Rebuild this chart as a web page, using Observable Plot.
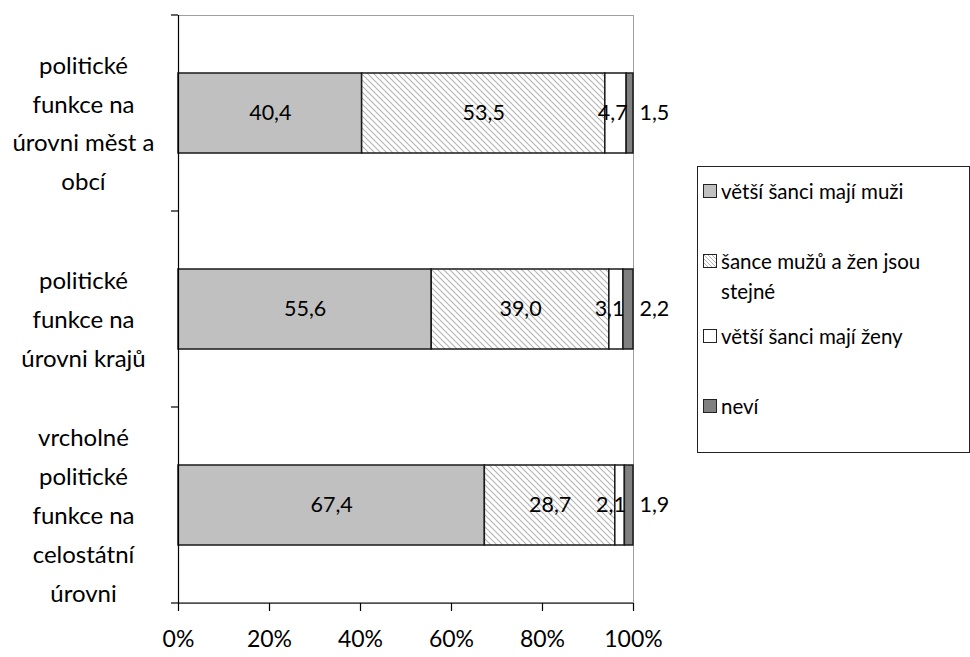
<!DOCTYPE html>
<html>
<head>
<meta charset="utf-8">
<script src="https://cdn.jsdelivr.net/npm/d3@7"></script>
<script src="https://cdn.jsdelivr.net/npm/@observablehq/plot@0.6"></script>
<style>
  body { margin: 0; background: #fff; }
  #wrap { position: relative; width: 970px; height: 657px; font-family: Lato, "Open Sans", sans-serif; }
  #legend { position: absolute; left: 697px; top: 166px; width: 273px; height: 287px; border: 1px solid #222; box-sizing: border-box; background: #fff; font-size: 20.5px; color: #000; }
  .item { position: absolute; left: 5px; display: flex; align-items: flex-start; line-height: 30px; width: 266px; }
  .item svg { flex: none; margin-top: 8px; margin-right: 4px; }
</style>
</head>
<body>
<div id="wrap"></div>
<script>
const categories = [
  "politické funkce na úrovni měst a obcí",
  "politické funkce na úrovni krajů",
  "vrcholné politické funkce na celostátní úrovni"
];
const categoryLabels = [
  "politické\nfunkce na\núrovni měst a\nobcí",
  "politické\nfunkce na\núrovni krajů",
  "vrcholné\npolitické\nfunkce na\ncelostátní\núrovni"
];
const series = ["větší šanci mají muži", "šance mužů a žen jsou stejné", "větší šanci mají ženy", "neví"];
const legendLabels = ["větší šanci mají muži", "šance mužů a žen jsou<br>stejné", "větší šanci mají ženy", "neví"];
const muzi   = [40.4, 55.6, 67.4];
const stejne = [53.5, 39.0, 28.7];
const zeny   = [4.7, 3.1, 2.1];
const nevi   = [1.5, 2.2, 1.9];
const xTicks = [0, 20, 40, 60, 80, 100];

const colors = ["#c0c0c0", "url(#hatch)", "#ffffff", "#808080"];
const legendColors = ["#c0c0c0", "url(#hatchL)", "#ffffff", "#808080"];

const valueArrays = [muzi, stejne, zeny, nevi];
const rows = categories.flatMap((c, i) => valueArrays.map((arr, j) => ({category: c, series: series[j], value: arr[i]})));

const fmt = v => d3.format(".1f")(v).replace(".", ",");
const pct = t => Math.round(t * 100) + "%";
const stackOpts = extra => ({x: "value", y: "category", z: "series", order: series, offset: "normalize", ...extra});

function boundaryTicks(index, scales, values, dims) {
  const y = scales.y;
  const bw = y.bandwidth ? y.bandwidth() : 0;
  const centers = categories.map(c => y(c) + bw / 2);
  const top = dims.marginTop, bottom = dims.height - dims.marginBottom;
  const left = dims.marginLeft, right = dims.width - dims.marginRight;
  const ys = [top];
  for (let i = 1; i < centers.length; i++) ys.push((centers[i - 1] + centers[i]) / 2);
  ys.push(bottom);
  const g = d3.create("svg:g").attr("stroke", "#000").attr("stroke-width", 1.2);
  for (const yy of ys) g.append("line").attr("x1", left - 7).attr("x2", left).attr("y1", yy).attr("y2", yy);
  g.append("line").attr("x1", left).attr("x2", right).attr("y1", bottom).attr("y2", bottom);
  return g.node();
}

const chart = Plot.plot({
  width: 970,
  height: 657,
  marginLeft: 178,
  marginRight: 337,
  marginTop: 15,
  marginBottom: 54,
  style: {fontFamily: "Lato, 'Open Sans', sans-serif", fontSize: "21.5px", color: "#000", background: "#fff", overflow: "visible"},
  x: {domain: [0, 1], ticks: xTicks.map(t => t / 100), tickFormat: pct, label: null, axis: null},
  y: {domain: categories, paddingInner: 0.592, paddingOuter: 0.296, label: null, axis: null},
  color: {domain: series, range: colors},
  marks: [
    Plot.frame({stroke: "#a0a0a0"}),
    Plot.barX(rows, Plot.stackX(stackOpts({fill: "series", stroke: "#1a1a1a", strokeWidth: 1.5}))),
    Plot.ruleX([0], {stroke: "#000", strokeWidth: 1.2}),
    boundaryTicks,
    Plot.axisX({ticks: xTicks.map(t => t / 100), tickFormat: pct, tickSize: 8, tickPadding: 19, label: null,
      stroke: "#000", strokeWidth: 1.2, fontSize: 23}),
    Plot.axisY({tickSize: 0, tickPadding: 0, dx: -95, dy: 6, textAnchor: "middle", lineHeight: 1.62, fontSize: 24, label: null,
      tickFormat: c => categoryLabels[categories.indexOf(c)]}),
    Plot.text(rows, Plot.stackX(stackOpts({
      text: d => (d.series === series[0] || d.series === series[1]) ? fmt(d.value) : "",
      fill: "#000"}))),
    Plot.text(rows, Plot.stackX2(stackOpts({
      text: d => d.series === series[2] ? fmt(d.value) : "",
      textAnchor: "end", dx: 1, fill: "#000"}))),
    Plot.text(rows, Plot.stackX2(stackOpts({
      text: d => d.series === series[3] ? fmt(d.value) : "",
      textAnchor: "start", dx: 6, fill: "#000"})))
  ]
});

d3.select(chart).insert("defs", ":first-child").html(
  '<pattern id="hatch" patternUnits="userSpaceOnUse" width="6" height="6">' +
  '<rect width="6" height="6" fill="#fff"/>' +
  '<path d="M-1,-1 L7,7 M-1,5 L1,7 M5,-1 L7,1" stroke="#b4b4b4" stroke-width="1.1"/></pattern>'
);

const wrap = document.getElementById("wrap");
wrap.appendChild(chart);

const tops = [9, 79, 154, 224];
const legend = document.createElement("div");
legend.id = "legend";
legend.innerHTML = series.map((s, i) =>
  `<div class="item" style="top:${tops[i]}px">` +
  `<svg width="14" height="14">` +
  (i === 1 ? '<defs><pattern id="hatchL" patternUnits="userSpaceOnUse" width="4" height="4"><rect width="4" height="4" fill="#fff"/><path d="M-1,-1 L5,5 M-1,3 L1,5 M3,-1 L5,1" stroke="#b4b4b4" stroke-width="1"/></pattern></defs>' : '') +
  `<rect x="0.5" y="0.5" width="13" height="13" fill="${legendColors[i]}" stroke="#222"/></svg>` +
  `<span>${legendLabels[i]}</span></div>`
).join("");
wrap.appendChild(legend);
</script>
</body>
</html>
